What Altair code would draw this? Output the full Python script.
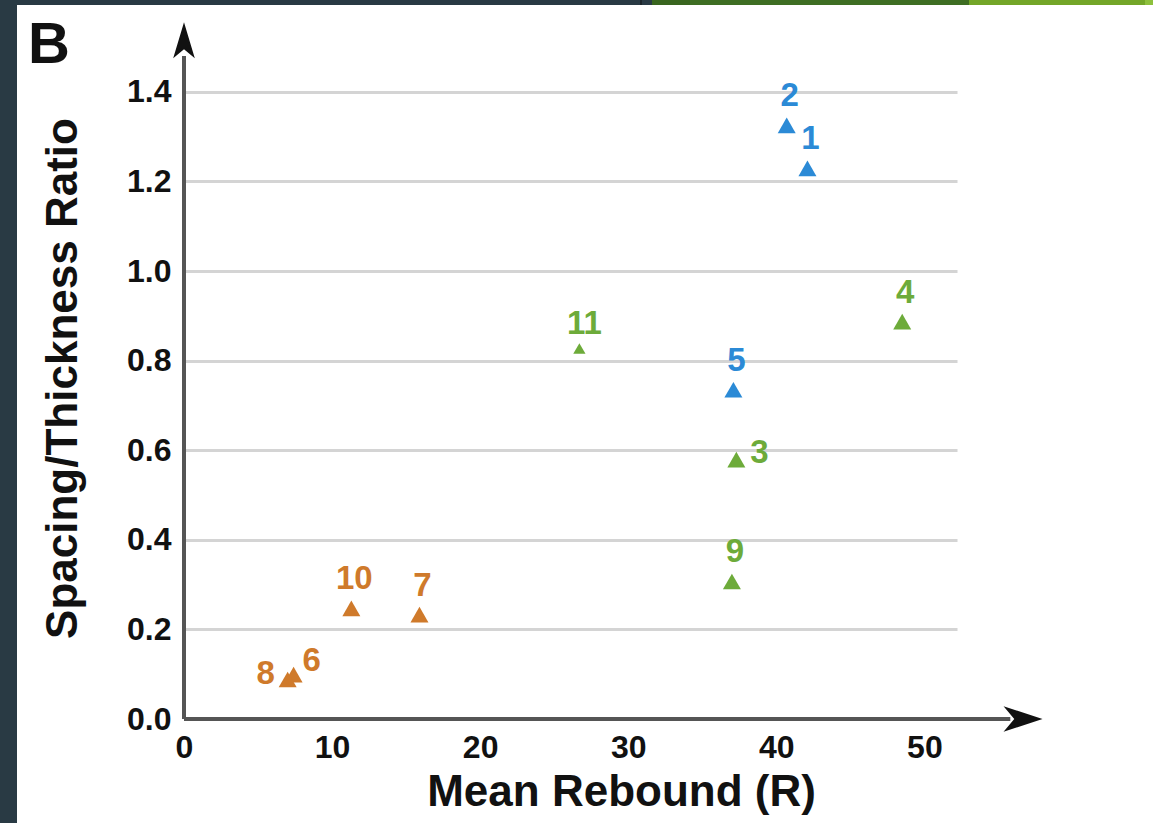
import altair as alt
import pandas as pd

# ---- chart values ----
ids = ["1", "2", "3", "4", "5", "6", "7", "8", "9", "10", "11"]
mean_rebound = [42.1, 40.7, 37.3, 48.5, 37.1, 7.4, 15.9, 7.0, 37.0, 11.3, 26.7]
spacing_ratio = [1.229, 1.325, 0.579, 0.887, 0.735, 0.099, 0.233, 0.088, 0.307, 0.247, 0.827]
series = ["blue", "blue", "green", "green", "blue", "orange", "orange", "orange", "green", "orange", "green"]
series_names = ["blue", "green", "orange"]
series_colors = ["#2b8ad6", "#6dab3a", "#cf7a2b"]
x_ticks = [0, 10, 20, 30, 40, 50]
y_ticks = [0.0, 0.2, 0.4, 0.6, 0.8, 1.0, 1.2, 1.4]
x_title = "Mean Rebound (R)"
y_title = "Spacing/Thickness Ratio"
panel_letter = "B"

FONT = "Liberation Sans"

df = pd.DataFrame({"id": ids, "rebound": mean_rebound, "ratio": spacing_ratio, "series": series})

xscale = alt.Scale(domain=[0, 52.2], nice=False, zero=False)
yscale = alt.Scale(domain=[0, 1.5], nice=False, zero=False)
cscale = alt.Scale(domain=series_names, range=series_colors)

x_axis = alt.Axis(values=x_ticks, domain=False, ticks=False, grid=False, labelFlush=False,
                  labelFont=FONT, labelFontSize=32, labelFontWeight="bold", labelColor="#111111",
                  labelPadding=13, title=x_title, titleFont=FONT, titleFontSize=44,
                  titleFontWeight="bold", titleColor="#111111", titleX=437, titleY=86,
                  titleBaseline="alphabetic", titleAlign="center")
y_axis = alt.Axis(values=y_ticks, format=".1f", domain=False, ticks=False, grid=True,
                  gridColor="#d4d4d4", gridWidth=3, labelFlush=False,
                  labelFont=FONT, labelFontSize=32, labelFontWeight="bold", labelColor="#111111",
                  labelPadding=13, title=y_title, titleFont=FONT, titleFontSize=44,
                  titleFontWeight="bold", titleColor="#111111", titleAngle=-90,
                  titleX=-108, titleY=331, titleAlign="center", titleBaseline="alphabetic")

base = alt.Chart(df)

points_big = base.transform_filter(alt.datum.id != "11").mark_point(
    shape="triangle-up", filled=True, size=324, opacity=1
).encode(
    x=alt.X("rebound:Q", scale=xscale, axis=x_axis),
    y=alt.Y("ratio:Q", scale=yscale, axis=y_axis),
    color=alt.Color("series:N", scale=cscale, legend=None),
)
points_small = base.transform_filter(alt.datum.id == "11").mark_point(
    shape="triangle-up", filled=True, size=150, opacity=1
).encode(
    x=alt.X("rebound:Q"),
    y=alt.Y("ratio:Q"),
    color=alt.Color("series:N", scale=cscale, legend=None),
)


def labels(id_list, dx, dy):
    return base.transform_filter(
        alt.FieldOneOfPredicate(field="id", oneOf=id_list)
    ).mark_text(font=FONT, fontSize=33, fontWeight="bold", dx=dx, dy=dy, baseline="middle", align="center").encode(
        x=alt.X("rebound:Q"),
        y=alt.Y("ratio:Q"),
        text="id:N",
        color=alt.Color("series:N", scale=cscale, legend=None),
    )


lab_above = labels(["1", "2", "4", "5", "7", "9", "10"], 3, -29)
lab_11 = labels(["11"], 5, -25)
lab_3 = labels(["3"], 23, -7)
lab_8 = labels(["8"], -22, -6)
lab_6 = labels(["6"], 18, -14)

one = pd.DataFrame({"a": [0]})
x_line = alt.Chart(one).mark_rule(color="#555555", strokeWidth=4).encode(
    x=alt.datum(0), x2=alt.datum(55.8), y=alt.datum(0))
y_line = alt.Chart(one).mark_rule(color="#555555", strokeWidth=4).encode(
    x=alt.datum(0), y=alt.datum(0), y2=alt.datum(1.48))
y_arrow = alt.Chart(one).mark_point(
    shape="M0,-1L0.6,1L0,0.5L-0.6,1Z", filled=True, size=1296, color="#111111", opacity=1
).encode(x=alt.datum(0), y=alt.datum(1.515))
x_arrow = alt.Chart(one).mark_point(
    shape="M1,0L-1,-0.65L-0.45,0L-1,0.65Z", filled=True, size=1521, color="#111111", opacity=1
).encode(x=alt.datum(56.66), y=alt.datum(0))


# decorative frame of the source slide (pixel offsets relative to the plot origin)
def strip(x0, x1, y0, y1, color):
    return alt.Chart(one).mark_rect(color=color).encode(
        x=alt.value(x0), x2=alt.value(x1), y=alt.value(y0), y2=alt.value(y1))


frame_layers = [
    strip(-184, -167, -47, 780, "#293a44"),
    strip(-184, 468, -47, -42, "#293a44"),
    strip(456, 458, -47, -42, "#1b252b"),
    strip(468, 506, -47, -42, "#39651f"),
    strip(506, 785, -47, -42, "#3e6e23"),
    strip(785, 961, -47, -42, "#73a628"),
    strip(961, 969, -47, -42, "#8dc03c"),
]

letter = alt.Chart(pd.DataFrame({"t": [panel_letter]})).mark_text(
    font=FONT, fontSize=58, fontWeight="bold", color="#111111", align="center", baseline="alphabetic"
).encode(x=alt.value(49 - 184), y=alt.value(63 - 47), text="t:N")

chart = alt.layer(
    points_big, points_small, lab_above, lab_11, lab_3, lab_8, lab_6,
    x_line, y_line, y_arrow, x_arrow, *frame_layers, letter
).properties(
    width=773, height=672,
    autosize=alt.AutoSizeParams(type="none"),
    padding={"left": 184, "top": 47, "right": 196, "bottom": 104},
    background="#ffffff",
).configure_view(stroke=None)

chart.save("out.html", embed_options={"renderer": "svg", "actions": False})
